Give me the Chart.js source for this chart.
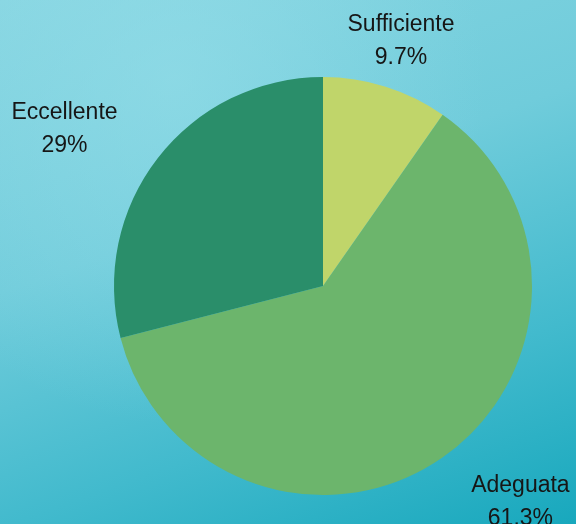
<!DOCTYPE html>
<html>
<head>
<meta charset="utf-8">
<script src="https://cdn.jsdelivr.net/npm/chart.js@4"></script>
<style>
  html, body { margin: 0; padding: 0; }
  body {
    width: 576px; height: 524px; overflow: hidden;
    background:
      radial-gradient(ellipse at 30% 15%, rgba(150, 222, 233, 0.6) 0%, rgba(150, 222, 233, 0) 55%),
      linear-gradient(160deg, #86d5e1 0%, #70ccdb 40%, #42bacd 72%, #18a8bd 100%);
  }
  #pie { display: block; }
</style>
</head>
<body>
<canvas id="pie" width="576" height="524"></canvas>
<script>
const categories = ["Sufficiente", "Adeguata", "Eccellente"];
const percentages = [9.7, 61.3, 29];
const percentLabels = ["9.7%", "61.3%", "29%"];
const sliceColors = ["#c0d56a", "#6cb56c", "#2a8e6a"];

// draws "name / percent" outside each slice, LibreOffice style
const outsideLabels = {
  id: "outsideLabels",
  afterDatasetsDraw(chart) {
    const ctx = chart.ctx;
    const arcs = chart.getDatasetMeta(0).data;
    ctx.save();
    ctx.font = "23px 'Liberation Sans', Arial, sans-serif";
    ctx.fillStyle = "#161616";
    ctx.textBaseline = "middle";
    ctx.textAlign = "center";
    arcs.forEach((arc, i) => {
      const mid = (arc.startAngle + arc.endAngle) / 2;
      const dx = Math.cos(mid), dy = Math.sin(mid);
      const ax = arc.x + dx * (arc.outerRadius + 51);
      const ay = arc.y + dy * (arc.outerRadius + 51) + 3;
      const lines = [categories[i], percentLabels[i]];
      const w = Math.max(...lines.map(l => ctx.measureText(l).width));
      const lh = 33;
      let cx = ax;
      if (dx > 0.4) cx = ax + w / 2; else if (dx < -0.4) cx = ax - w / 2;
      ctx.fillText(lines[0], cx, ay - lh / 2);
      ctx.fillText(lines[1], cx, ay + lh / 2);
    });
    ctx.restore();
  }
};

new Chart(document.getElementById("pie").getContext("2d"), {
  type: "pie",
  data: {
    labels: categories,
    datasets: [{
      data: percentages,
      backgroundColor: sliceColors,
      borderWidth: 0,
    }],
  },
  options: {
    responsive: false,
    animation: false,
    layout: { padding: { left: 114, right: 44, top: 77, bottom: 29 } },
    plugins: {
      legend: { display: false },
      tooltip: { enabled: false },
    },
  },
  plugins: [outsideLabels],
});
</script>
</body>
</html>
